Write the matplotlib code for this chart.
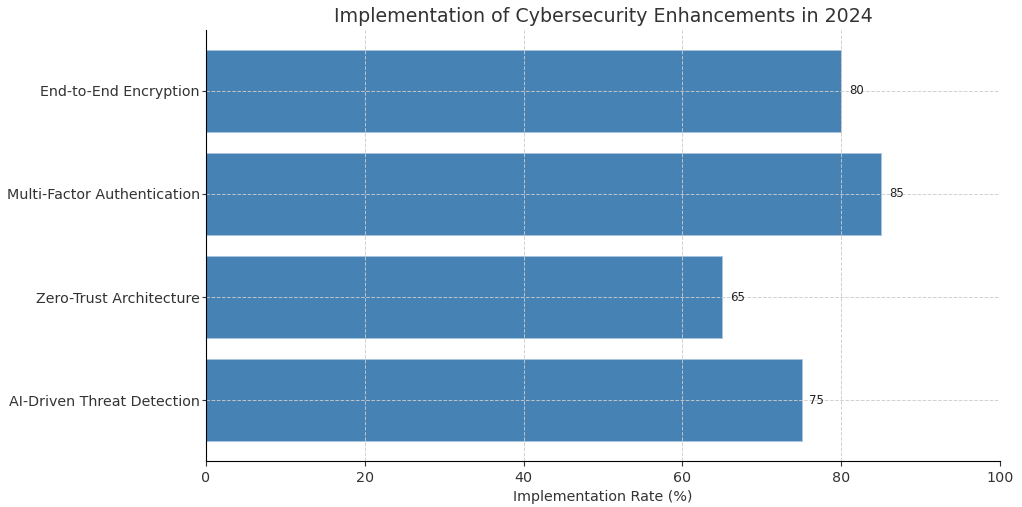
import matplotlib
matplotlib.use("Agg")
import matplotlib.pyplot as plt

# Data
categories = ["AI-Driven Threat Detection", "Zero-Trust Architecture",
              "Multi-Factor Authentication", "End-to-End Encryption"]
rates = [75, 65, 85, 80]

fig = plt.figure(figsize=(10.22, 5.07), dpi=100)
ax = fig.add_axes([0.2016, 0.0907, 0.7769, 0.850])

bars = ax.barh(categories, rates, height=0.8, color="#4682B4", edgecolor="#a9c4e0", linewidth=0.6)

for bar, v in zip(bars, rates):
    ax.text(v + 1, bar.get_y() + bar.get_height() / 2, f"{v}",
            va="center", ha="left", fontsize=8.5, color="#222222")

ax.set_xlim(0, 100)
ax.set_xlabel("Implementation Rate (%)", fontsize=10.3, color="#333333")
ax.set_title("Implementation of Cybersecurity Enhancements in 2024", fontsize=13.7, color="#333333")
ax.tick_params(axis="both", labelsize=10.3, colors="#333333")
ax.tick_params(axis="y", length=3, pad=1.5)

ax.grid(True, linestyle="--", color="#cccccc", linewidth=0.7, alpha=0.9)
ax.set_axisbelow(False)
ax.spines["top"].set_visible(False)
ax.spines["right"].set_visible(False)
for s in ("left", "bottom"):
    ax.spines[s].set_zorder(3)

fig.savefig("out.png", dpi=100)
